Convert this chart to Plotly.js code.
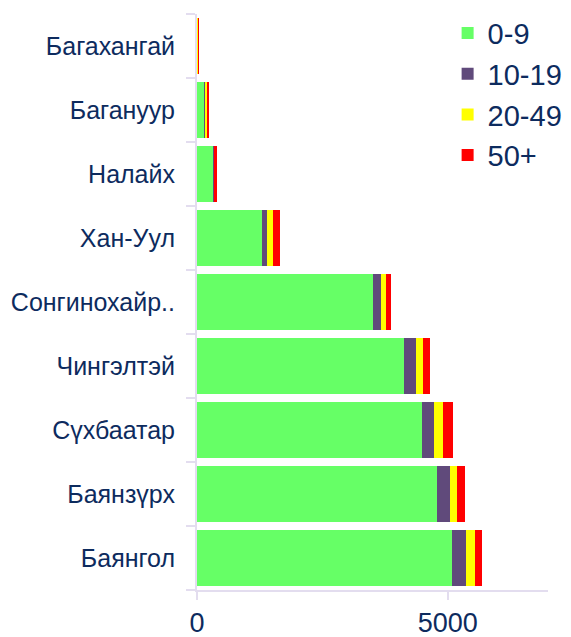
<!DOCTYPE html>
<html>
<head>
<meta charset="utf-8">
<script src="https://cdn.plot.ly/plotly-3.0.1.min.js"></script>
<style>
html,body{margin:0;padding:0;background:#fff;}
#chart{width:571px;height:637px;}
</style>
</head>
<body>
<div id="chart"></div>
<script>
var districts = ["Баянгол","Баянзүрх","Сүхбаатар","Чингэлтэй","Сонгинохайр..","Хан-Уул","Налайх","Багануур","Багахангай"];
var s0_9   = [5080, 4795, 4497, 4127, 3517, 1298, 311, 146, 5];
var s10_19 = [292, 245, 226, 231, 146, 106, 22, 20, 2];
var s20_49 = [172, 153, 192, 152, 112, 113, 12, 26, 3];
var s50p   = [139, 145, 198, 146, 87, 146, 52, 40, 28];
var seriesNames = ["0-9","10-19","20-49","50+"];
var seriesColors = ["#66ff66","#604a7b","#ffff00","#ff0000"];
var seriesData = [s0_9, s10_19, s20_49, s50p];

var traces = seriesData.map(function(d,i){
  return {
    type:"bar", orientation:"h", name:seriesNames[i],
    y:districts, x:d,
    marker:{color:seriesColors[i], line:{width:0}},
    hoverinfo:"x+y+name"
  };
});

var txt = "#0d2b5e";
var fam = "Liberation Sans, Arial, sans-serif";
var layout = {
  width:571, height:637,
  margin:{l:197, r:23, t:14, b:47, pad:0, autoexpand:false},
  barmode:"stack",
  bargap:0.11,
  paper_bgcolor:"#ffffff", plot_bgcolor:"#ffffff",
  font:{family:fam, color:txt, size:24},
  showlegend:true,
  legend:{
    x:0.714, y:1.011, xanchor:"left", yanchor:"top",
    font:{size:29, color:txt, family:fam},
    bgcolor:"rgba(0,0,0,0)",
    traceorder:"normal",
    tracegroupgap:0
  },
  xaxis:{
    range:[0,7000],
    tickvals:[0,5000], ticktext:["0","5000"],
    showgrid:false, zeroline:false,
    showline:true, linecolor:"#e3ddef", linewidth:2,
    ticks:"outside", ticklen:8, tickwidth:2, tickcolor:"#e3ddef",
    tickfont:{size:27, color:txt, family:fam}
  },
  yaxis:{
    categoryorder:"array", categoryarray:districts,
    showgrid:false, zeroline:false,
    showline:true, linecolor:"#e3ddef", linewidth:2,
    ticks:"outside", ticklen:9, tickwidth:2, tickcolor:"#e3ddef",
    tickson:"boundaries",
    tickfont:{size:25, color:txt, family:fam},
    ticklabelstandoff:15
  }
};

Plotly.newPlot("chart", traces, layout, {displayModeBar:false, staticPlot:true});
</script>
</body>
</html>
